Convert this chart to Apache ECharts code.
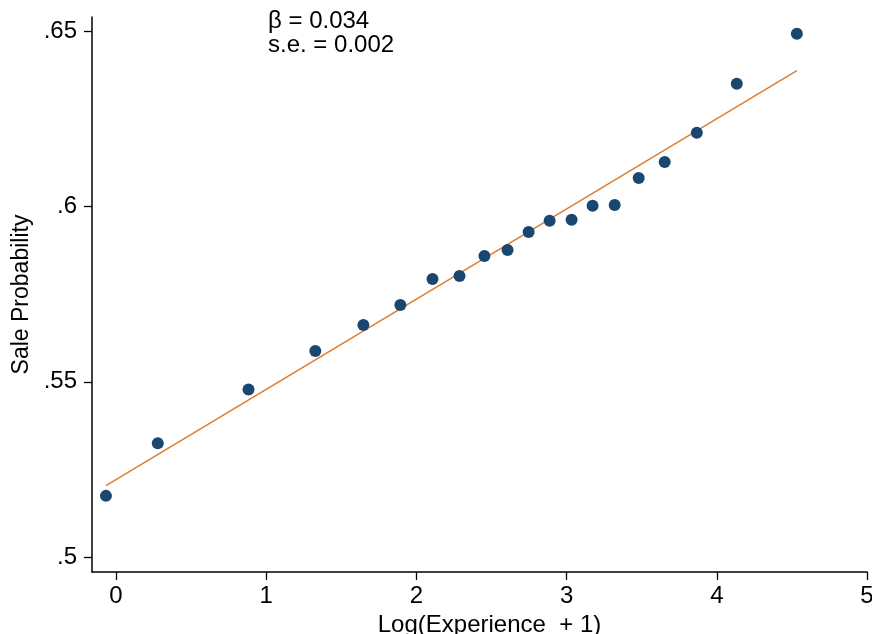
<!DOCTYPE html>
<html>
<head>
<meta charset="utf-8">
<script src="https://cdn.jsdelivr.net/npm/echarts@6/dist/echarts.min.js"></script>
<style>
  html, body { margin: 0; padding: 0; background: #fff; }
  #chart { width: 872px; height: 634px; }
</style>
</head>
<body>
<div id="chart"></div>
<script>
// binned scatter: log experience vs sale probability
const logExp = [-0.067, 0.278, 0.882, 1.327, 1.647, 1.893, 2.107, 2.287, 2.453, 2.607,
  2.747, 2.887, 3.033, 3.173, 3.32, 3.48, 3.653, 3.867, 4.133, 4.533]
const saleProb = [0.5175, 0.5325, 0.5478, 0.5588, 0.5662, 0.5719, 0.5793, 0.5802, 0.5859, 0.5876,
  0.5927, 0.5959, 0.5962, 0.6002, 0.6004, 0.6081, 0.6127, 0.621, 0.635, 0.6492]
// fitted line end points
const fitX = [-0.067, 4.533]
const fitY = [0.5204, 0.6387]
const xTicks = [0, 1, 2, 3, 4, 5]
const yTicks = [0.5, 0.55, 0.6, 0.65]
const noteLines = ['β = 0.034', 's.e. = 0.002']

const font = '"Liberation Sans", Arial, Helvetica, sans-serif'
const chart = echarts.init(document.getElementById('chart'))

function fmtY(v) {
  const hit = yTicks.find(t => Math.abs(t - v) < 1e-6)
  if (hit === undefined) return ''
  return String(hit).replace(/^0/, '')
}

chart.setOption({
  animation: false,
  grid: { left: 92, right: 5, top: 17, bottom: 62, outerBoundsMode: 'none' },
  xAxis: {
    type: 'value',
    min: -0.16,
    max: 5,
    interval: 1,
    splitLine: { show: false },
    axisLine: { show: true, onZero: false, lineStyle: { color: '#000', width: 1.5 } },
    axisTick: { show: true, length: 8, lineStyle: { color: '#000', width: 1.3 },
      customValues: xTicks },
    axisLabel: { color: '#000', fontSize: 24, fontFamily: font, margin: 12,
      customValues: xTicks, formatter: v => String(v) },
    name: 'Log(Experience  + 1)',
    nameLocation: 'middle',
    nameGap: 36,
    nameTextStyle: { color: '#000', fontSize: 24, fontFamily: font, padding: [0, 0, 0, 20] }
  },
  yAxis: {
    type: 'value',
    min: 0.4958,
    max: 0.654,
    splitLine: { show: false },
    axisLine: { show: true, onZero: false, lineStyle: { color: '#000', width: 1.5 } },
    axisTick: { show: true, length: 8, lineStyle: { color: '#000', width: 1.3 },
      customValues: yTicks },
    axisLabel: { color: '#000', fontSize: 24, fontFamily: font, margin: 15,
      customValues: yTicks, formatter: fmtY },
    name: 'Sale Probability',
    nameLocation: 'middle',
    nameGap: 57,
    nameTextStyle: { color: '#000', fontSize: 23, fontFamily: font }
  },
  graphic: [{
    type: 'text',
    left: 268,
    top: 9,
    style: { text: noteLines.join('\n'), fontSize: 24, lineHeight: 24, fontFamily: font, fill: '#000' }
  }],
  series: [
    {
      type: 'line',
      data: fitX.map((x, i) => [x, fitY[i]]),
      symbol: 'none',
      lineStyle: { color: '#dc7a2c', width: 1.4 },
      z: 2
    },
    {
      type: 'scatter',
      data: logExp.map((x, i) => [x, saleProb[i]]),
      symbolSize: 12,
      itemStyle: { color: '#1a476f', opacity: 1 },
      z: 3
    }
  ]
})
</script>
</body>
</html>
